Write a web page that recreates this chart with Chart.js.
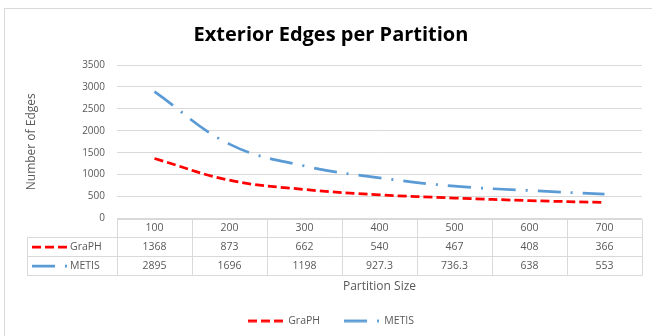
<!DOCTYPE html>
<html>
<head>
<meta charset="utf-8">
<script src="https://cdn.jsdelivr.net/npm/chart.js@4/dist/chart.umd.min.js"></script>
<style>
  html, body { margin: 0; padding: 0; background: #ffffff; }
  #wrap { width: 652px; height: 336px; }
</style>
</head>
<body>
<div id="wrap"><canvas id="chart" width="652" height="336"></canvas></div>
<script>
// Partition sizes (categories) and exterior edge counts per partitioner
const partitionSizes = ['100', '200', '300', '400', '500', '600', '700'];
const graphEdges = [1368, 873, 662, 540, 467, 408, 366];
const metisEdges = [2895, 1696, 1198, 927.3, 736.3, 638, 553];
const edgeTicks = [0, 500, 1000, 1500, 2000, 2500, 3000, 3500];

const seriesNames = ['GraPH', 'METIS'];
const textGrey = '#595959';
const gridGrey = '#D9D9D9';
const fontFamily = "'Open Sans', sans-serif";

Chart.defaults.font.family = fontFamily;

const graphStyle = { color: '#FF0000', width: 2.75, dash: [9, 4] };
const metisStyle = { color: '#5B9BD5', width: 2.75, dash: [23, 10, 2, 10] };

// Small dashed line sample used as the legend / table key for a series
function makeKey(style) {
  const c = document.createElement('canvas');
  c.width = 35;
  c.height = 4;
  const g = c.getContext('2d');
  g.strokeStyle = style.color;
  g.lineWidth = style.width;
  g.setLineDash(style.dash);
  g.beginPath();
  g.moveTo(0, 2);
  g.lineTo(35, 2);
  g.stroke();
  return c;
}
const graphKey = makeKey(graphStyle);
const metisKey = makeKey(metisStyle);

// White card with a thin grey frame behind everything
const framePlugin = {
  id: 'frame',
  beforeDraw(chart) {
    const { ctx, width, height } = chart;
    ctx.save();
    ctx.fillStyle = '#ffffff';
    ctx.fillRect(0, 0, width, height);
    ctx.strokeStyle = gridGrey;
    ctx.lineWidth = 1;
    ctx.strokeRect(4.5, 8.5, width + 10, height + 10);
    ctx.restore();
  }
};

// Data table under the plot: header row with categories, one row per series
const dataTablePlugin = {
  id: 'dataTable',
  afterDraw(chart) {
    const { ctx, chartArea } = chart;
    const xs = chart.scales.x;
    const n = partitionSizes.length;
    const colW = (chartArea.right - chartArea.left) / n;
    const rowH = 18.8;
    const top = chartArea.bottom;
    const keyLeft = 27;
    const rows = [graphEdges, metisEdges];

    ctx.save();
    ctx.strokeStyle = gridGrey;
    ctx.lineWidth = 1;
    const px = v => Math.round(v) + 0.5;

    // horizontal rules
    ctx.beginPath();
    ctx.moveTo(chartArea.left, px(top));
    ctx.lineTo(chartArea.right, px(top));
    for (let r = 1; r <= rows.length + 1; r++) {
      const y = px(top + r * rowH);
      ctx.moveTo(keyLeft, y);
      ctx.lineTo(chartArea.right, y);
    }
    // vertical rules
    for (let c = 0; c <= n; c++) {
      const x = px(chartArea.left + c * colW);
      ctx.moveTo(x, px(top));
      ctx.lineTo(x, px(top + (rows.length + 1) * rowH));
    }
    ctx.moveTo(px(keyLeft), px(top + rowH));
    ctx.lineTo(px(keyLeft), px(top + (rows.length + 1) * rowH));
    ctx.stroke();

    ctx.fillStyle = textGrey;
    ctx.font = '10.5px ' + fontFamily;
    ctx.textAlign = 'center';
    ctx.textBaseline = 'middle';
    partitionSizes.forEach((label, i) => {
      ctx.fillText(label, xs.getPixelForValue(i), top + rowH / 2 + 0.5);
    });
    rows.forEach((vals, r) => {
      const cy = top + (r + 1.5) * rowH + 0.5;
      vals.forEach((v, i) => {
        ctx.fillText(String(v), xs.getPixelForValue(i), cy);
      });
    });

    // series keys in the first column
    chart.data.datasets.forEach((ds, r) => {
      const cy = top + (r + 1.5) * rowH;
      const key = ds.pointStyle;
      ctx.drawImage(key, 32, Math.round(cy - key.height / 2));
      ctx.textAlign = 'left';
      ctx.fillText(ds.label, 70, cy + 0.5);
    });
    ctx.restore();
  }
};

new Chart(document.getElementById('chart'), {
  type: 'line',
  data: {
    labels: partitionSizes,
    datasets: [
      {
        label: seriesNames[0],
        data: graphEdges,
        borderColor: graphStyle.color,
        backgroundColor: graphStyle.color,
        borderWidth: graphStyle.width,
        borderDash: graphStyle.dash,
        pointStyle: graphKey,
        pointRadius: 0,
        tension: 0.4,
        fill: false
      },
      {
        label: seriesNames[1],
        data: metisEdges,
        borderColor: metisStyle.color,
        backgroundColor: metisStyle.color,
        borderWidth: metisStyle.width,
        borderDash: metisStyle.dash,
        pointStyle: metisKey,
        pointRadius: 0,
        tension: 0.4,
        fill: false
      }
    ]
  },
  options: {
    responsive: false,
    animation: false,
    devicePixelRatio: 1,
    layout: { padding: { left: 10, right: 0, top: 0, bottom: 0 } },
    plugins: {
      title: {
        display: true,
        text: 'Exterior Edges per Partition',
        color: '#000000',
        font: { family: fontFamily, size: 20, weight: 'bold' },
        padding: { top: 23, bottom: 18 }
      },
      legend: {
        display: true,
        position: 'bottom',
        labels: {
          usePointStyle: true,
          pointStyleWidth: 35,
          boxHeight: 11,
          color: textGrey,
          font: { size: 10.5 },
          padding: 24
        }
      },
      tooltip: { enabled: false }
    },
    scales: {
      x: {
        type: 'category',
        offset: true,
        grid: { display: false },
        border: { display: false },
        ticks: { display: false },
        title: {
          display: true,
          text: 'Partition Size',
          color: textGrey,
          font: { size: 12 },
          padding: { top: 0, bottom: -2 }
        },
        afterFit(scale) { scale.height = 73; }
      },
      y: {
        min: 0,
        max: 3500,
        afterBuildTicks(scale) { scale.ticks = edgeTicks.map(v => ({ value: v })); },
        ticks: {
          color: textGrey,
          font: { size: 10 },
          padding: 12,
          callback: v => String(v)
        },
        grid: { color: gridGrey, drawTicks: false },
        border: { display: false },
        title: {
          display: true,
          text: 'Number of Edges',
          color: textGrey,
          font: { size: 12 },
          padding: { top: 14, bottom: 0 }
        },
        afterFit(scale) { scale.width = 107; }
      },
      // empty right-hand gutter so the plot stops short of the frame edge
      gutter: {
        type: 'linear',
        position: 'right',
        display: true,
        grid: { display: false, drawTicks: false },
        border: { display: false },
        ticks: { display: false },
        afterFit(scale) { scale.width = 10; }
      }
    }
  },
  plugins: [framePlugin, dataTablePlugin]
});
</script>
</body>
</html>
